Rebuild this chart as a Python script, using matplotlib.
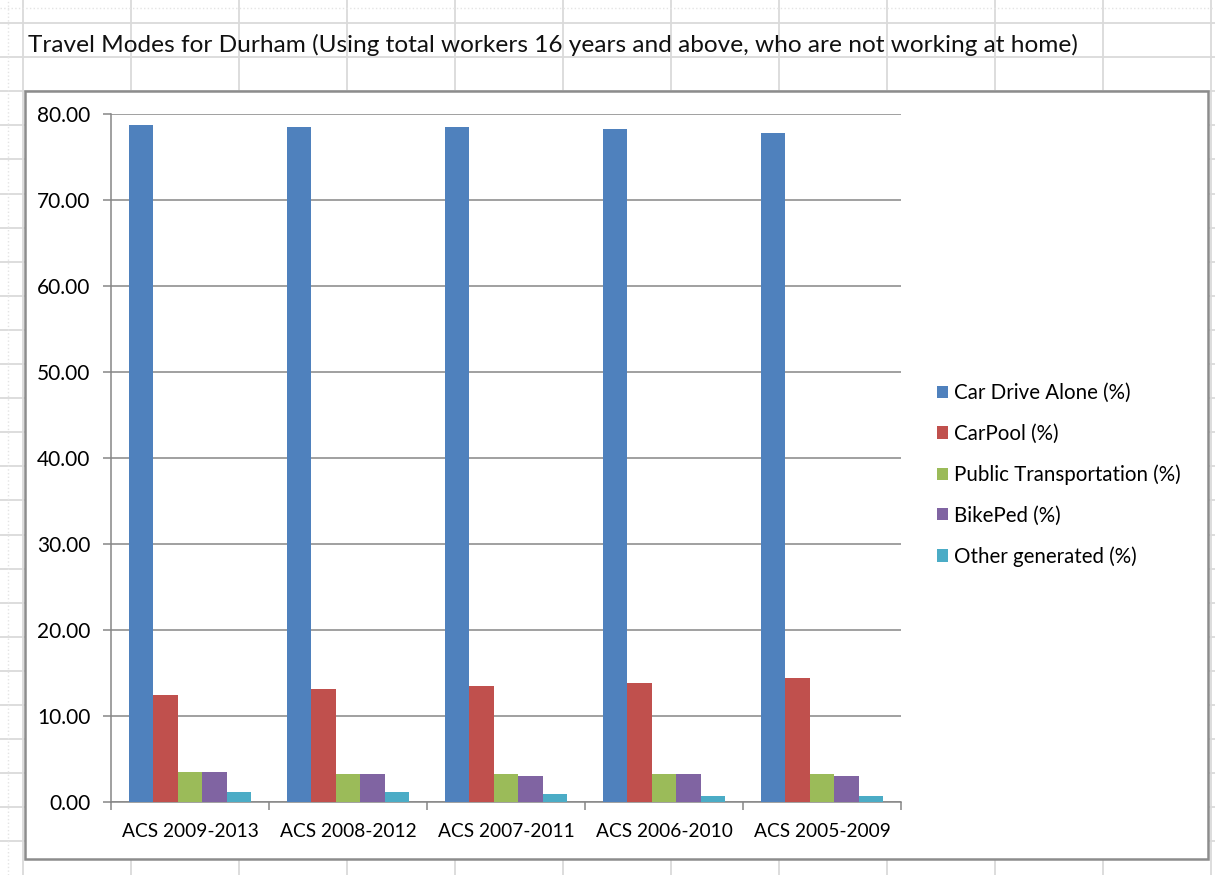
import numpy as np
import matplotlib
matplotlib.use('Agg')
import matplotlib.pyplot as plt
from matplotlib.patches import Rectangle, Patch

plt.rcParams['font.family'] = ['Lato', 'DejaVu Sans']

# ACS period estimates, share of commuters by mode
periods = ['ACS 2009-2013', 'ACS 2008-2012', 'ACS 2007-2011', 'ACS 2006-2010', 'ACS 2005-2009']
modes = ['Car Drive Alone (%)', 'CarPool (%)', 'Public Transportation (%)',
         'BikePed (%)', 'Other generated (%)']
drive_alone = [78.7, 78.5, 78.5, 78.3, 77.8]
carpool = [12.4, 13.1, 13.5, 13.8, 14.4]
public_trans = [3.5, 3.3, 3.3, 3.3, 3.3]
bikeped = [3.5, 3.3, 3.0, 3.3, 3.0]
other = [1.2, 1.2, 0.9, 0.7, 0.7]
series = [drive_alone, carpool, public_trans, bikeped, other]
colors = ['#4F81BD', '#C0504D', '#9BBB59', '#8064A2', '#4BACC6']

W, H = 1215, 875
fig = plt.figure(figsize=(W / 100, H / 100), dpi=100)

# worksheet cells behind the chart
bg = fig.add_axes([0, 0, 1, 1])
bg.set_xlim(0, W); bg.set_ylim(H, 0); bg.axis('off')
for x in np.arange(23, W + 1, 108):
    bg.axvline(x, color='#DADADA', lw=1.3)
for y in np.arange(23, H, 34.1):
    bg.axhline(y, color='#DADADA', lw=1.3)
bg.axvline(8, color='#E4E4E4', lw=1, ls=':')
bg.axhline(8, color='#E4E4E4', lw=1, ls=':')
bg.text(28, 45, 'Travel Modes for Durham (Using total workers 16 years and above, who are not working at home)',
        fontsize=17.6, va='center', ha='left', color='#111111')

# chart area box
bg.add_patch(Rectangle((25, 91), 1183, 768, facecolor='white', edgecolor='#8C8C8C', lw=1.8, zorder=3))

ax = fig.add_axes([111 / W, (H - 802) / H, 790 / W, 688 / H])
ax.set_zorder(5)
ax.patch.set_alpha(0)

x = np.arange(len(periods))
bw = 0.155
for i, (vals, c) in enumerate(zip(series, colors)):
    ax.bar(x + (i - 2) * bw, vals, width=bw, color=c, zorder=3)

ax.set_xlim(-0.5, len(periods) - 0.5)
ax.set_ylim(0, 80)
ax.set_yticks(np.arange(0, 81, 10))
ax.set_yticklabels([f'{v:.2f}' for v in np.arange(0, 81, 10)])
ax.yaxis.grid(True, color='#868686', lw=1.1)
ax.set_axisbelow(True)

ax.set_xticks(x)
ax.set_xticklabels(periods)
ax.set_xticks(np.arange(-0.5, len(periods)), minor=True)
ax.tick_params(axis='x', which='major', length=0, pad=15, labelsize=13.8)
ax.tick_params(axis='x', which='minor', length=6, width=1.1, color='#868686', direction='out')
ax.tick_params(axis='y', length=6, width=1.1, color='#868686', pad=9, labelsize=15)

for s in ['top', 'right']:
    ax.spines[s].set_visible(False)
for s in ['left', 'bottom']:
    ax.spines[s].set_color('#868686')
    ax.spines[s].set_linewidth(1.1)

handles = [Patch(facecolor=c, label=m) for c, m in zip(colors, modes)]
leg = fig.legend(handles=handles, loc='center left', bbox_to_anchor=(937 / W, (H - 475) / H),
                 frameon=False, fontsize=14.8, handlelength=0.55, handleheight=0.55,
                 handletextpad=0.3, labelspacing=1.0, borderpad=0, borderaxespad=0)

fig.savefig('out.png', dpi=100)
